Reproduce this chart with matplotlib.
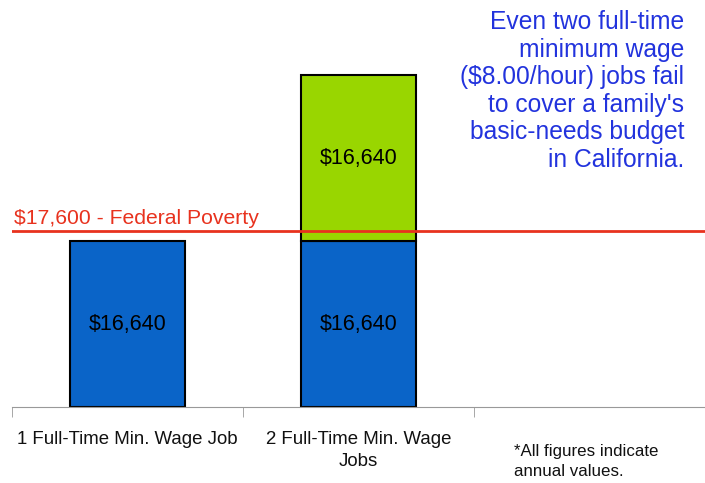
import numpy as np
import matplotlib.pyplot as plt

plt.rcParams['font.family'] = ['Liberation Sans', 'DejaVu Sans']

categories = ["1 Full-Time Min. Wage Job", "2 Full-Time Min. Wage\nJobs", ""]
first_job = [16640, 16640, 0]
second_job = [0, 16640, 0]
poverty_line = 17600
poverty_label = "$17,600 - Federal Poverty"
note = ("Even two full-time\nminimum wage\n($8.00/hour) jobs fail\n"
        "to cover a family's\nbasic-needs budget\nin California.")
footnote = "*All figures indicate\nannual values."

fig = plt.figure(figsize=(7.05, 4.83), dpi=100)
ax = fig.add_axes([12 / 705, 76 / 483, 693 / 705, 407 / 483])

x = np.arange(len(categories))
blue = "#0a64c8"
green = "#99d600"
ax.bar(x[:2], first_job[:2], width=0.5, color=blue, edgecolor="black", linewidth=1.5)
ax.bar(x[1:2], second_job[1:2], bottom=first_job[1:2], width=0.5,
       color=green, edgecolor="black", linewidth=1.5)

for i in range(2):
    ax.text(x[i], first_job[i] / 2, f"${first_job[i]:,}", ha="center", va="center", fontsize=15.5)
ax.text(x[1], first_job[1] + second_job[1] / 2, f"${second_job[1]:,}",
        ha="center", va="center", fontsize=15.5)

ax.axhline(poverty_line, color="#e8321e", linewidth=2)
ax.text(-0.49, poverty_line + 380, poverty_label, color="#e8321e", fontsize=15.2,
        ha="left", va="bottom")

ax.set_xlim(-0.5, 2.48)
ax.set_ylim(0, 40800)

for s in ["top", "right", "left"]:
    ax.spines[s].set_visible(False)
ax.spines["bottom"].set_color("#999999")
ax.set_yticks([])
ax.set_xticks(x[:2])
ax.set_xticklabels(categories[:2], fontsize=13.4, linespacing=1.4, color="#111111")
ax.tick_params(axis="x", which="major", length=0, pad=17)
ax.set_xticks([-0.5, 0.5, 1.5, 2.5], minor=True)
ax.tick_params(axis="x", which="minor", length=7, color="#999999", direction="out")

fig.text(684 / 705, 1 - 10 / 483, note, color="#2233dd", fontsize=17.7, ha="right", va="top",
         linespacing=1.19)
fig.text(514 / 705, 1 - 444 / 483, footnote, fontsize=12.2, ha="left", va="top",
         linespacing=1.45, color="#111111")

fig.savefig("out.png", dpi=100)
